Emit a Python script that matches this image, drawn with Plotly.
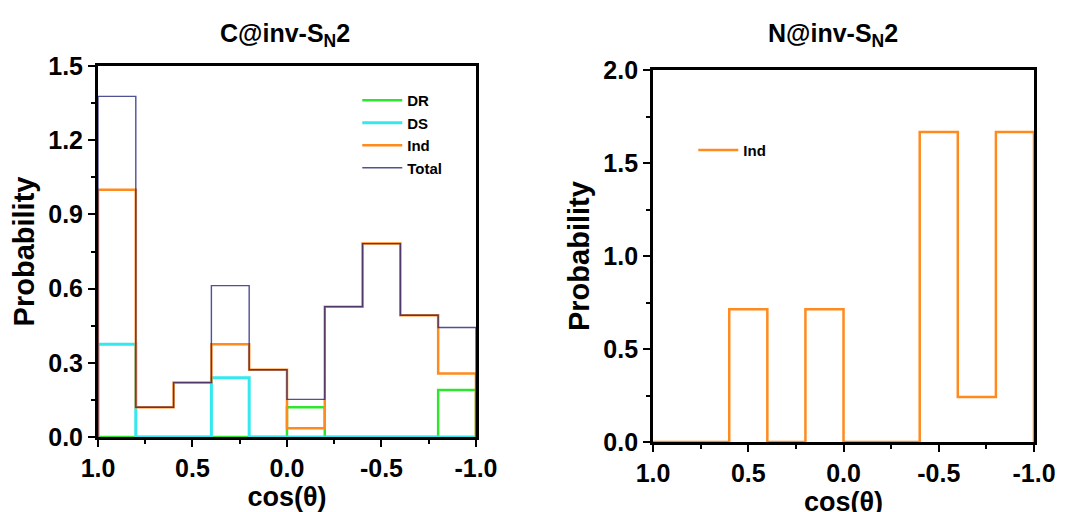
import plotly.graph_objects as go
from plotly.subplots import make_subplots

# Bin edges of cos(theta)
edges = [1.0, 0.8, 0.6, 0.4, 0.2, 0.0, -0.2, -0.4, -0.6, -0.8, -1.0]

# C@inv-SN2 panel
c_dr = [0, 0, 0, 0, 0, 0.12, 0, 0, 0, 0.19]
c_ds = [0.375, 0, 0, 0.24, 0, 0, 0, 0, 0, 0]
c_ind = [1.0, 0.12, 0.22, 0.375, 0.272, 0.035, 0.527, 0.782, 0.492, 0.257]
c_total = [1.377, 0.12, 0.22, 0.612, 0.272, 0.152, 0.527, 0.782, 0.492, 0.443]

# N@inv-SN2 panel
n_ind = [0, 0, 0.714, 0, 0.714, 0, 0, 1.667, 0.242, 1.667]

x_ticks = [1.0, 0.5, 0.0, -0.5, -1.0]
x_ticklabels = ["1.0", "0.5", "0.0", "-0.5", "-1.0"]

FONT = "Arial, Liberation Sans, sans-serif"


def step(values):
    xs = [edges[0]] + edges
    ys = [0] + values + [0]
    return xs, ys


fig = make_subplots(rows=1, cols=2)

series = [
    ("DR", c_dr, "#2ee62e", 2.5, 1.0),
    ("DS", c_ds, "#33e8ee", 3.0, 1.0),
    ("Ind", c_ind, "#ff8a1e", 2.5, 1.0),
    ("Total", c_total, "#25257e", 1.4, 0.8),
]
for name, vals, color, w, op in series:
    xs, ys = step(vals)
    fig.add_trace(go.Scatter(x=xs, y=ys, mode="lines", line_shape="hv", name=name,
                             line=dict(color=color, width=w), opacity=op,
                             legend="legend"), row=1, col=1)

xs, ys = step(n_ind)
fig.add_trace(go.Scatter(x=xs, y=ys, mode="lines", line_shape="hv", name="Ind",
                         line=dict(color="#ff8a1e", width=2.5),
                         legend="legend2"), row=1, col=2)

axis_common = dict(showline=True, linecolor="black", linewidth=3, mirror=True,
                   ticks="outside", tickwidth=2, ticklen=7, tickcolor="black",
                   showgrid=False, zeroline=False, automargin=False, layer="above traces",
                   tickfont=dict(family=FONT, size=25, color="black", weight="bold"))

for col in (1, 2):
    fig.update_xaxes(range=[1.0, -1.0], tickvals=x_ticks, ticktext=x_ticklabels,
                     minor=dict(ticks="outside", ticklen=4, tickwidth=2, tickcolor="black",
                                dtick=0.25, tick0=0),
                     title_text="cos(θ)", title_standoff=0,
                     title_font=dict(family=FONT, size=27, color="black", weight="bold"),
                     row=1, col=col, **axis_common)

ytitle_font = dict(family=FONT, size=29, color="black", weight="bold")
fig.update_yaxes(range=[0, 1.5], tickvals=[0, 0.3, 0.6, 0.9, 1.2, 1.5],
                 ticktext=["0.0", "0.3", "0.6", "0.9", "1.2", "1.5"],
                 minor=dict(ticks="outside", ticklen=4, tickwidth=2, tickcolor="black",
                            dtick=0.15, tick0=0),
                 title_text="Probability", title_standoff=6, title_font=ytitle_font,
                 row=1, col=1, **axis_common)
fig.update_yaxes(range=[0, 2.0], tickvals=[0, 0.5, 1.0, 1.5, 2.0],
                 ticktext=["0.0", "0.5", "1.0", "1.5", "2.0"],
                 minor=dict(ticks="outside", ticklen=4, tickwidth=2, tickcolor="black",
                            dtick=0.25, tick0=0),
                 title_text="Probability", title_standoff=6, title_font=ytitle_font,
                 row=1, col=2, **axis_common)

fig.update_layout(
    xaxis=dict(domain=[0.0, 0.4038]),
    xaxis2=dict(domain=[0.593, 1.0]),
    yaxis=dict(domain=[0.0133, 1.0]),
    yaxis2=dict(domain=[0.0, 0.989]),
)

leg_font = dict(family=FONT, size=15, color="black", weight="bold")
fig.update_layout(
    width=1076, height=512,
    margin=dict(l=90, r=50, t=58, b=78),
    plot_bgcolor="white", paper_bgcolor="white",
    font=dict(family=FONT, color="black"),
    showlegend=True,
    legend=dict(x=0.277, y=0.952, xanchor="left", yanchor="top", font=leg_font,
                bgcolor="rgba(0,0,0,0)", tracegroupgap=0, itemwidth=40),
    legend2=dict(x=0.636, y=0.82, xanchor="left", yanchor="top", font=leg_font,
                 bgcolor="rgba(0,0,0,0)", itemwidth=40),
    annotations=[
        dict(text="C@inv-S<sub>N</sub>2", x=(285 - 98) / 936, y=(442 - 35) / 376,
             xref="paper", yref="paper", xanchor="center", yanchor="middle",
             showarrow=False,
             font=dict(family=FONT, size=25, color="black", weight="bold")),
        dict(text="N@inv-S<sub>N</sub>2", x=(833 - 98) / 936, y=(442 - 35) / 376,
             xref="paper", yref="paper", xanchor="center", yanchor="middle",
             showarrow=False,
             font=dict(family=FONT, size=25, color="black", weight="bold")),
    ],
)

fig.write_html("out.html")
